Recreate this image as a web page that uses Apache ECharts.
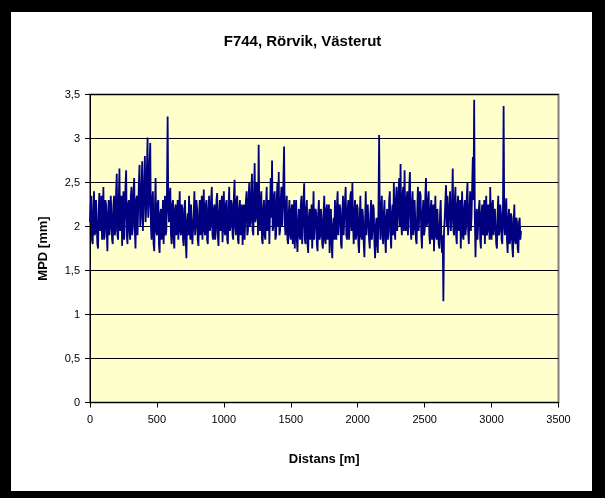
<!DOCTYPE html>
<html>
<head>
<meta charset="utf-8">
<script src="https://cdn.jsdelivr.net/npm/echarts@6/dist/echarts.min.js"></script>
<style>
html,body{margin:0;padding:0;background:#000;}
#chart{width:605px;height:498px;}
</style>
</head>
<body>
<div id="chart"></div>
<script>
const title = "F744, Rörvik, Västerut";
const xName = "Distans [m]";
const yName = "MPD [mm]";
const startM = 0;
const stepM = 5;
const xTicks = [0, 500, 1000, 1500, 2000, 2500, 3000, 3500];
const yTicks = ["0", "0,5", "1", "1,5", "2", "2,5", "3", "3,5"];
const mpd = [
 2.05,2.25,2.35,1.85,1.80,2.15,2.40,1.90,1.95,2.30, 2.30,1.80,1.75,2.20,2.38,1.95,2.10,2.35,1.85,2.05,
 2.45,1.85,1.90,2.30,2.25,1.95,1.72,2.15,2.30,1.90, 2.00,2.35,2.15,1.85,1.80,2.25,2.35,1.90,1.95,2.40,
 2.60,1.90,1.85,2.30,2.66,1.95,2.05,2.35,1.78,2.20, 2.40,1.85,2.10,2.45,2.64,1.90,1.80,2.25,2.30,1.95,
 1.85,2.35,2.45,1.90,2.00,2.40,2.55,1.95,1.75,2.30, 2.35,1.90,2.20,2.50,2.70,2.00,2.10,2.45,2.74,1.95,
 1.95,2.50,2.80,2.05,2.20,2.65,3.01,2.10,2.25,2.70, 2.95,2.00,1.85,2.30,2.40,1.80,1.72,2.20,2.55,1.95,
 1.90,2.25,2.30,1.80,1.70,2.15,2.20,1.85,2.00,2.30, 1.80,2.10,2.35,1.90,1.95,2.40,3.25,2.20,2.05,2.35,
 2.44,1.90,1.80,2.25,2.30,1.85,1.75,2.20,2.25,1.90, 2.00,2.30,1.85,2.05,2.40,1.95,1.90,2.25,2.20,1.85,
 1.78,2.20,2.30,1.85,1.64,2.05,2.15,1.90,2.35,2.00, 1.85,2.25,2.25,1.80,1.80,2.15,2.40,1.90,2.00,2.30,
 2.20,1.85,1.78,2.15,2.30,1.90,2.05,2.35,1.85,2.10, 2.42,1.95,1.90,2.25,2.30,1.85,1.80,2.20,2.35,1.95,
 2.00,2.30,2.45,1.90,1.85,2.20,2.25,1.85,1.95,2.30, 2.38,1.90,1.78,2.15,2.30,1.95,2.10,2.35,1.82,2.05,
 2.40,1.95,1.90,2.25,2.30,1.85,1.80,2.20,2.45,1.95, 2.00,2.30,2.25,1.90,1.85,2.35,2.53,2.00,1.90,2.30,
 2.35,1.85,1.80,2.20,2.30,1.90,2.00,2.25,1.79,2.10, 2.25,1.85,1.85,2.30,2.40,1.90,1.95,2.35,2.50,2.00,
 2.05,2.40,2.60,1.95,1.90,2.35,2.72,2.05,2.10,2.50, 2.45,1.90,2.93,2.20,1.95,2.30,2.40,1.85,1.80,2.20,
 2.30,1.90,1.85,2.25,2.45,1.95,2.05,2.30,1.80,2.20, 2.55,2.10,2.75,1.95,2.00,2.35,2.40,1.85,1.90,2.30,
 2.50,2.00,2.62,1.90,1.95,2.30,2.45,2.00,2.20,2.55, 2.91,2.05,1.90,2.25,2.35,1.85,1.80,2.15,2.30,1.90,
 1.85,2.20,2.25,1.80,2.05,2.30,1.75,2.10,2.30,1.85, 1.71,2.05,2.20,1.90,1.85,2.25,2.35,1.80,2.00,2.30,
 2.49,1.85,1.80,2.20,2.30,1.80,1.70,2.10,2.20,1.85, 1.95,2.25,1.75,2.05,2.40,1.85,1.85,2.20,2.15,1.80,
 1.72,2.15,2.30,1.85,1.90,2.20,2.10,1.80,1.75,2.15, 2.35,1.85,1.80,2.20,2.25,1.85,1.95,2.25,1.70,2.05,
 2.20,1.80,1.64,2.00,2.10,1.85,2.30,1.90,1.85,2.25, 2.40,1.90,1.90,2.25,2.20,1.80,1.75,2.15,2.35,1.90,
 1.90,2.30,2.45,1.90,1.85,2.20,2.30,1.85,2.00,2.35, 2.40,1.95,2.50,2.05,1.80,2.15,2.30,1.85,1.90,2.25,
 2.20,1.80,1.70,2.10,2.35,1.90,1.85,2.20,2.10,1.80, 1.65,2.05,2.40,1.90,1.90,2.25,2.25,1.85,1.75,2.15,
 2.30,1.85,1.95,2.25,2.20,1.80,1.64,2.00,2.10,1.80, 1.70,2.20,3.04,2.05,1.85,2.20,2.35,1.90,1.80,2.15,
 2.30,1.85,1.70,2.10,2.20,1.85,1.95,2.30,2.40,1.90, 1.75,2.15,2.25,1.90,2.50,2.00,1.85,2.30,2.45,1.95,
 2.10,2.40,2.55,2.00,2.71,2.05,1.90,2.35,2.45,1.95, 2.64,2.10,1.95,2.30,2.40,1.90,2.10,2.45,2.62,2.00,
 1.85,2.25,2.40,1.90,2.00,2.30,2.30,1.85,1.80,2.20, 2.45,1.95,2.10,2.40,2.35,1.90,1.75,2.15,2.30,1.90,
 1.95,2.35,2.55,2.00,2.05,2.30,2.40,1.90,1.80,2.20, 2.30,1.85,2.00,2.25,1.72,2.05,2.35,1.90,1.85,2.20,
 2.20,1.80,1.75,2.15,2.30,1.85,1.70,1.90,1.15,1.95, 2.10,2.30,2.47,2.00,2.35,1.90,1.90,2.25,2.40,1.95,
 2.05,2.30,2.66,1.95,1.90,2.30,2.45,1.90,1.80,2.25, 2.35,1.95,2.00,2.30,1.75,2.10,2.40,1.90,1.85,2.20,
 2.30,1.90,2.00,2.35,2.50,1.95,1.80,2.20,2.40,1.95, 2.10,2.45,2.79,2.30,3.44,2.10,1.65,2.05,2.20,1.85,
 1.85,2.20,2.30,1.85,1.75,2.15,2.25,1.90,2.00,2.30, 1.80,2.10,2.35,1.90,1.95,2.25,2.20,1.85,2.45,2.05,
 1.85,2.25,2.30,1.90,1.90,2.20,2.20,1.80,1.75,2.15, 2.35,1.90,1.95,2.25,2.15,1.85,1.80,2.20,3.37,2.00,
 1.90,2.20,2.32,1.85,1.70,2.10,2.20,1.80,1.85,2.15, 2.10,1.75,1.65,2.05,2.25,1.85,1.80,2.10,2.05,1.75,
 1.70,2.05,2.10,1.85,1.95
];

const seriesData = mpd.map((v, i) => [startM + i * stepM, v]);
const FONT = "'Liberation Sans', Arial, sans-serif";

const chart = echarts.init(document.getElementById('chart'), null, {renderer: 'canvas'});
chart.setOption({
  backgroundColor: '#000000',
  animation: false,
  graphic: [{
    type: 'rect', z: -10, silent: true,
    shape: {x: 11, y: 12, width: 581, height: 479},
    style: {fill: '#ffffff'}
  }],
  title: {
    text: title, left: 'center', top: 29,
    textStyle: {fontFamily: FONT, fontSize: 15, fontWeight: 'bold', color: '#000'}
  },
  grid: {
    left: 90, right: 46.5, top: 94.5, bottom: 95.5,
    show: true, backgroundColor: '#ffffcc', borderColor: '#808080', borderWidth: 2
  },
  xAxis: {
    type: 'value', min: 0, max: 3500, interval: 500,
    name: xName, nameLocation: 'middle', nameGap: 50,
    nameTextStyle: {fontFamily: FONT, fontSize: 13, fontWeight: 'bold', color: '#000'},
    axisLine: {show: true, onZero: false, lineStyle: {color: '#000', width: 1}},
    axisTick: {show: true, inside: false, length: 5, lineStyle: {color: '#000'}},
    axisLabel: {margin: 12, fontFamily: FONT, fontSize: 11, color: '#000',
      formatter: v => String(xTicks[xTicks.indexOf(v)] ?? v)},
    splitLine: {show: false}
  },
  yAxis: {
    type: 'value', min: 0, max: 3.5, interval: 0.5,
    name: yName, nameLocation: 'middle', nameGap: 40, nameRotate: 90,
    nameTextStyle: {fontFamily: FONT, fontSize: 13, fontWeight: 'bold', color: '#000'},
    axisLine: {show: true, onZero: false, lineStyle: {color: '#000', width: 1}},
    axisTick: {show: true, inside: false, length: 5, lineStyle: {color: '#000'}},
    axisLabel: {margin: 10, fontFamily: FONT, fontSize: 11, color: '#000',
      formatter: v => yTicks[Math.round(v / 0.5)]},
    splitLine: {show: true, lineStyle: {color: '#000', width: 1}}
  },
  series: [{
    type: 'line', data: seriesData, showSymbol: false, symbol: 'none',
    lineStyle: {color: '#000080', width: 1.8}, z: 3
  }]
});
</script>
</body>
</html>
